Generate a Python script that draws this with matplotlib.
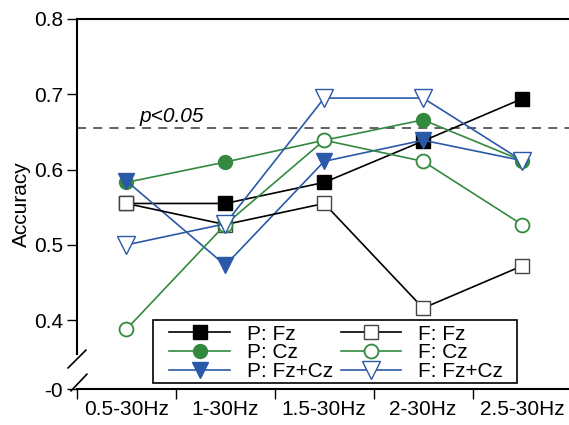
import matplotlib.pyplot as plt
from matplotlib.patches import Rectangle
import numpy as np

bands = ["0.5-30Hz", "1-30Hz", "1.5-30Hz", "2-30Hz", "2.5-30Hz"]
p_fz = [0.555, 0.555, 0.583, 0.638, 0.694]
p_cz = [0.583, 0.610, 0.639, 0.666, 0.612]
p_fzcz = [0.585, 0.473, 0.611, 0.639, 0.612]
f_fz = [0.555, 0.527, 0.555, 0.416, 0.472]
f_cz = [0.388, 0.527, 0.639, 0.611, 0.527]
f_fzcz = [0.500, 0.528, 0.695, 0.695, 0.612]
chance = 0.655

green = "#338a3e"
blue = "#2a59a8"

plt.rcParams["font.family"] = "Liberation Sans"
fig = plt.figure(figsize=(5.69, 4.25), dpi=100)
ax = fig.add_axes([0.1353, 0.0847, 0.869, 0.8706])

x = np.arange(len(bands))
lw = 1.2
ax.plot(x, p_fz, color="black", lw=lw, marker="s", ms=9.5, mfc="black", mec="black", label="P: Fz")
ax.plot(x, p_cz, color=green, lw=lw, marker="o", ms=10, mfc=green, mec=green, label="P: Cz")
ax.plot(x, p_fzcz, color=blue, lw=lw, marker="v", ms=12, mfc=blue, mec=blue, label="P: Fz+Cz")
ax.plot(x, f_fz, color="black", lw=lw, marker="s", ms=9.5, mfc="white", mec="#444444", label="F: Fz")
ax.plot(x, f_cz, color=green, lw=lw, marker="o", ms=10, mfc="white", mec=green, mew=1.3, label="F: Cz")
ax.plot(x, f_fzcz, color=blue, lw=lw, marker="v", ms=12.5, mfc="white", mec=blue, mew=1.0, label="F: Fz+Cz")

ax.axhline(chance, color="#555555", lw=1.3, ls=(0, (5, 4)), zorder=1)
ax.text(0.13, chance + 0.003, "p<0.05", style="italic", fontsize=15, va="bottom", ha="left")

ymin = 0.3086
ax.set_xlim(-0.5, 4.5)
ax.set_ylim(ymin, 0.8)

ax.set_yticks([ymin, 0.4, 0.5, 0.6, 0.7, 0.8])
ax.set_yticklabels(["-0", "0.4", "0.5", "0.6", "0.7", "0.8"])
ax.set_xticks(x)
ax.set_xticklabels(bands)
ax.set_xticks(np.arange(-0.5, 4.6, 1), minor=True)
ax.tick_params(axis="x", which="major", length=0, labelsize=15, pad=8)
ax.tick_params(axis="x", which="minor", length=7, width=1)
ax.tick_params(axis="y", length=7, width=1, labelsize=15, pad=3)
ax.set_ylabel("Accuracy", fontsize=15, labelpad=2)

for s in ["left", "bottom", "top"]:
    ax.spines[s].set_linewidth(1.5)
ax.spines["right"].set_visible(False)
ax.spines["left"].set_bounds(0.355, 0.8)

# axis break marks
kw = dict(transform=ax.transAxes, color="black", lw=1.2, clip_on=False)
ax.plot([-0.018, 0.018], [0.057, 0.105], **kw)
ax.plot([-0.012, 0.020], [-0.005, 0.040], **kw)

# legend box drawn separately (wider side padding than the legend allows)
ax.add_patch(Rectangle((0.1545, 0.0162), 0.7355, 0.1703, transform=ax.transAxes,
                       facecolor="white", edgecolor="black", lw=1.2, zorder=4))
leg = ax.legend(ncol=2, loc="lower left", bbox_to_anchor=(0.187, 0.022),
                borderaxespad=0, fontsize=15, frameon=False,
                handlelength=2.9, labelspacing=-0.02, columnspacing=0.4,
                handletextpad=0.8, borderpad=0)
leg.set_zorder(5)

fig.savefig("out.png", dpi=100)
